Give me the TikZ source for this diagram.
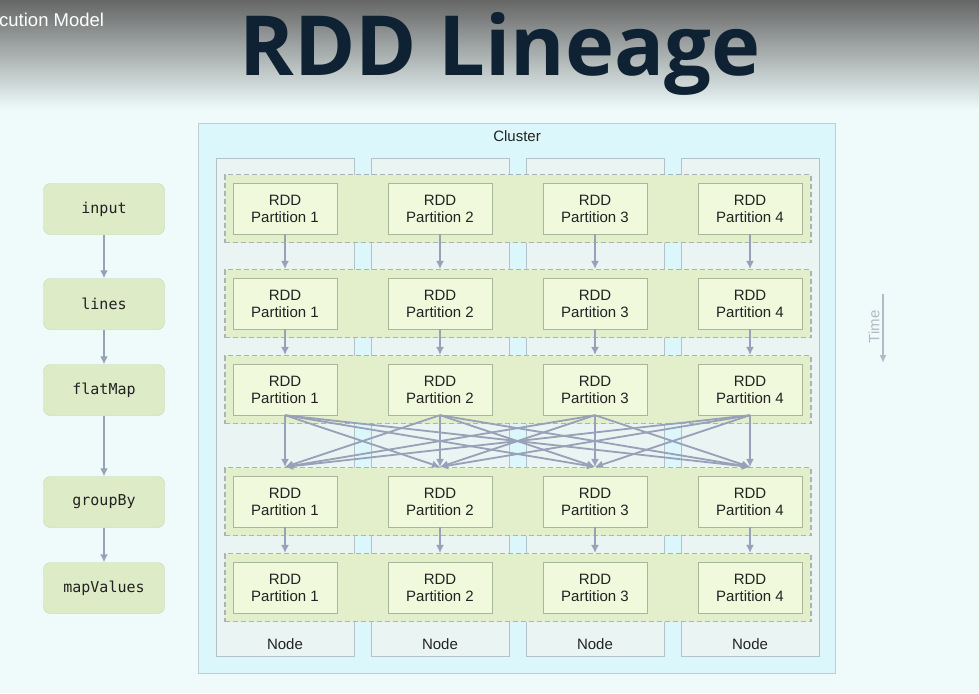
\documentclass[tikz,border=0pt]{standalone}
\usepackage{fontspec}
\setmainfont{Liberation Sans}
\setmonofont{DejaVu Sans Mono}
\newfontfamily\titlefont{Open Sans}
\usepackage{xcolor}
\usetikzlibrary{positioning}
\usetikzlibrary{arrows.meta}

\definecolor{bgcol}{HTML}{EFFBFB}
\definecolor{topgray}{HTML}{666666}
\definecolor{midgray}{HTML}{C8CECE}
\definecolor{titlecol}{HTML}{0E2233}
\definecolor{clusfill}{HTML}{DBF7FB}
\definecolor{clusline}{HTML}{BCCFD4}
\definecolor{colfill}{HTML}{EAF4F3}
\definecolor{colline}{HTML}{B5C1C4}
\definecolor{bandfill}{HTML}{E3EFCB}
\definecolor{bandline}{HTML}{A9B5B3}
\definecolor{partfill}{HTML}{F1F9DD}
\definecolor{partline}{HTML}{A6B89C}
\definecolor{stepfill}{HTML}{DDEBC7}
\definecolor{stepline}{HTML}{C3D6AD}
\definecolor{arrcol}{HTML}{97A1B7}
\definecolor{timecol}{HTML}{B3BAC6}
\definecolor{txtcol}{HTML}{222222}

\tikzset{
  txt/.style={text=txtcol,font=\fontsize{15}{17}\selectfont},
  part/.style={txt,draw=partline,fill=partfill,minimum width=104pt,minimum height=51pt,align=center,inner sep=0pt},
  band/.style={draw=bandline,fill=bandfill,dash pattern=on 5pt off 3pt,line width=1.1pt,minimum width=586pt,minimum height=68pt},
  colbox/.style={draw=colline,fill=colfill,minimum width=138pt,minimum height=498pt},
  stepbox/.style={draw=stepline,fill=stepfill,rounded corners=7pt,minimum width=121pt,minimum height=51pt,text=txtcol,font=\ttfamily\fontsize{15}{17}\selectfont},
  arr/.style={draw=arrcol,line width=1.8pt,-{Latex[length=8pt,width=8pt]}}
}

\begin{document}
\begin{tikzpicture}[x=1pt,y=-1pt]
\useasboundingbox (0,0) rectangle (979,693);
\fill[bgcol] (0,0) rectangle (979,693);
\shade[top color=topgray,middle color=midgray,bottom color=bgcol] (0,0) rectangle (979,110);

% title
\node[anchor=base,inner sep=0pt,text=titlecol,font=\titlefont\bfseries\fontsize{83}{86}\selectfont] (title) at (500,75) {RDD Lineage};
\node[anchor=base west,inner sep=0pt,text=white,font=\fontsize{18.5}{21}\selectfont] (sub) at (-1,27) {cution Model};

% cluster and machines
\node[draw=clusline,fill=clusfill,minimum width=637pt,minimum height=550pt] (cluster) at (516.5,398) {};
\node[txt] (clab) at (517,136) {Cluster};
\foreach \c/\x in {1/285,2/440,3/595,4/750} {
  \node[colbox] (col-\c) at (\x,407) {};
  \node[txt] (nlab-\c) at (\x,644) {Node};
}

% partitions
\foreach \r/\y in {1/208.5,2/303.5,3/389.5,4/501.5,5/587.5} {
  \node[band] (b-\r) at (518,\y) {};
  \foreach \c/\x in {1/285,2/440,3/595,4/750} {
    \node[part] (p-\r-\c) at (\x,\y) {RDD\\Partition \c};
    \coordinate (t-\r-\c) at (p-\r-\c.north |- b-\r.north);
  }
}

% narrow dependencies
\foreach \r/\s in {1/2,2/3,4/5}
  \foreach \c in {1,...,4}
    \draw[arr] (p-\r-\c.south) -- (t-\s-\c);

% shuffle
\foreach \c in {1,...,4}
  \foreach \d in {1,...,4}
    \draw[arr] (p-3-\c.south) -- (t-4-\d);

% lineage steps
\node[stepbox] (s-1) at (104,209) {input};
\node[stepbox] (s-2) at (104,304) {lines};
\node[stepbox] (s-3) at (104,390) {flatMap};
\node[stepbox] (s-4) at (104,502) {groupBy};
\node[stepbox] (s-5) at (104,588) {mapValues};
\foreach \a/\b in {1/2,2/3,3/4,4/5}
  \draw[arr] (s-\a) -- (s-\b);

% time
\coordinate (time-a) at (883,294);
\coordinate (time-b) at (883,363);
\draw[draw=timecol,line width=1.5pt,-{Latex[length=8pt,width=7pt]}] (time-a) -- (time-b);
\node[rotate=90,text=timecol,font=\fontsize{15}{17}\selectfont] (time) at (874,327) {Time};
\end{tikzpicture}
\end{document}
